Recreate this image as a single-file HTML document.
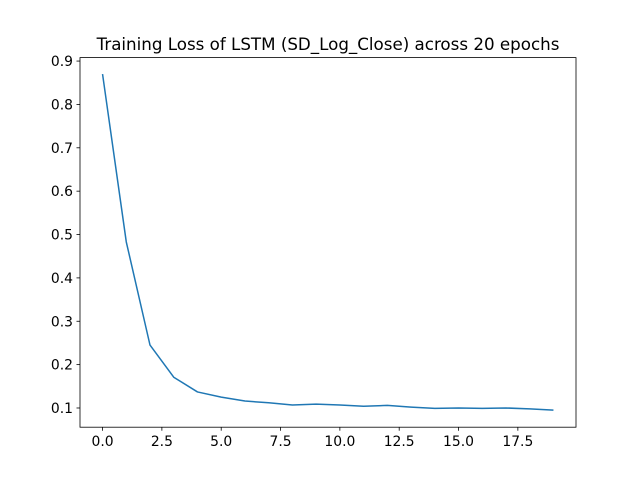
<!DOCTYPE html>
<html><head><meta charset="utf-8"><style>
html,body{margin:0;padding:0;background:#fff;}
svg{display:block;font-family:"DejaVu Sans","Liberation Sans",sans-serif;}
</style></head><body>
<svg id="chart" width="640" height="480" xmlns="http://www.w3.org/2000/svg">
<rect width="640" height="480" fill="#fff"/>
<text x="328" y="50" text-anchor="middle" font-size="16.7">Training Loss of LSTM (SD_Log_Close) across 20 epochs</text>
<g id="ticks"></g>
<polyline id="line" fill="none" stroke="#1f77b4" stroke-width="1.5" stroke-linejoin="round"/>
<rect x="80" y="57.6" width="496" height="369.6" fill="none" stroke="#000" stroke-width="0.8"/>
</svg>
<script>
const epochs = [0,1,2,3,4,5,6,7,8,9,10,11,12,13,14,15,16,17,18,19];
const loss = [0.870,0.483,0.245,0.171,0.137,0.125,0.116,0.112,0.107,0.109,0.107,0.104,0.106,0.102,0.099,0.100,0.099,0.100,0.098,0.095];
const xTicks = [0,2.5,5,7.5,10,12.5,15,17.5];
const xTickLabels = ["0.0","2.5","5.0","7.5","10.0","12.5","15.0","17.5"];
const yTicks = [0.1,0.2,0.3,0.4,0.5,0.6,0.7,0.8,0.9];
const yTickLabels = ["0.1","0.2","0.3","0.4","0.5","0.6","0.7","0.8","0.9"];
const L=80,R=576,T=57.6,B=427.2;
const xmin=-0.95,xmax=19.95,ymin=0.0557,ymax=0.908;
function sx(v){return L+(v-xmin)/(xmax-xmin)*(R-L);}
function sy(v){return B-(v-ymin)/(ymax-ymin)*(B-T);}
const NS="http://www.w3.org/2000/svg";
const g=document.getElementById('ticks');
xTicks.forEach((t,i)=>{
  const x=sx(t);
  const l=document.createElementNS(NS,'line');
  
  
  l.setAttribute('x1',x);l.setAttribute('x2',x);l.setAttribute('y1',B);l.setAttribute('y2',B+3.5);
  l.setAttribute('stroke','#000');l.setAttribute('stroke-width','0.8');g.appendChild(l);
  const tx=document.createElementNS(NS,'text');
  
  
  tx.setAttribute('x',x);tx.setAttribute('y',B+19);tx.setAttribute('text-anchor','middle');tx.setAttribute('font-size','13.9');
  tx.textContent=xTickLabels[i];g.appendChild(tx);
});
yTicks.forEach((t,i)=>{
  const y=sy(t);
  const l=document.createElementNS(NS,'line');
  
  
  l.setAttribute('x1',L-3.5);l.setAttribute('x2',L);l.setAttribute('y1',y);l.setAttribute('y2',y);
  l.setAttribute('stroke','#000');l.setAttribute('stroke-width','0.8');g.appendChild(l);
  const tx=document.createElementNS(NS,'text');
  
  
  tx.setAttribute('x',L-7);tx.setAttribute('y',y+5);tx.setAttribute('text-anchor','end');tx.setAttribute('font-size','13.9');
  tx.textContent=yTickLabels[i];g.appendChild(tx);
});
document.getElementById('line').setAttribute('points',epochs.map((e,i)=>sx(e)+','+sy(loss[i])).join(' '));
</script>
</body></html>
